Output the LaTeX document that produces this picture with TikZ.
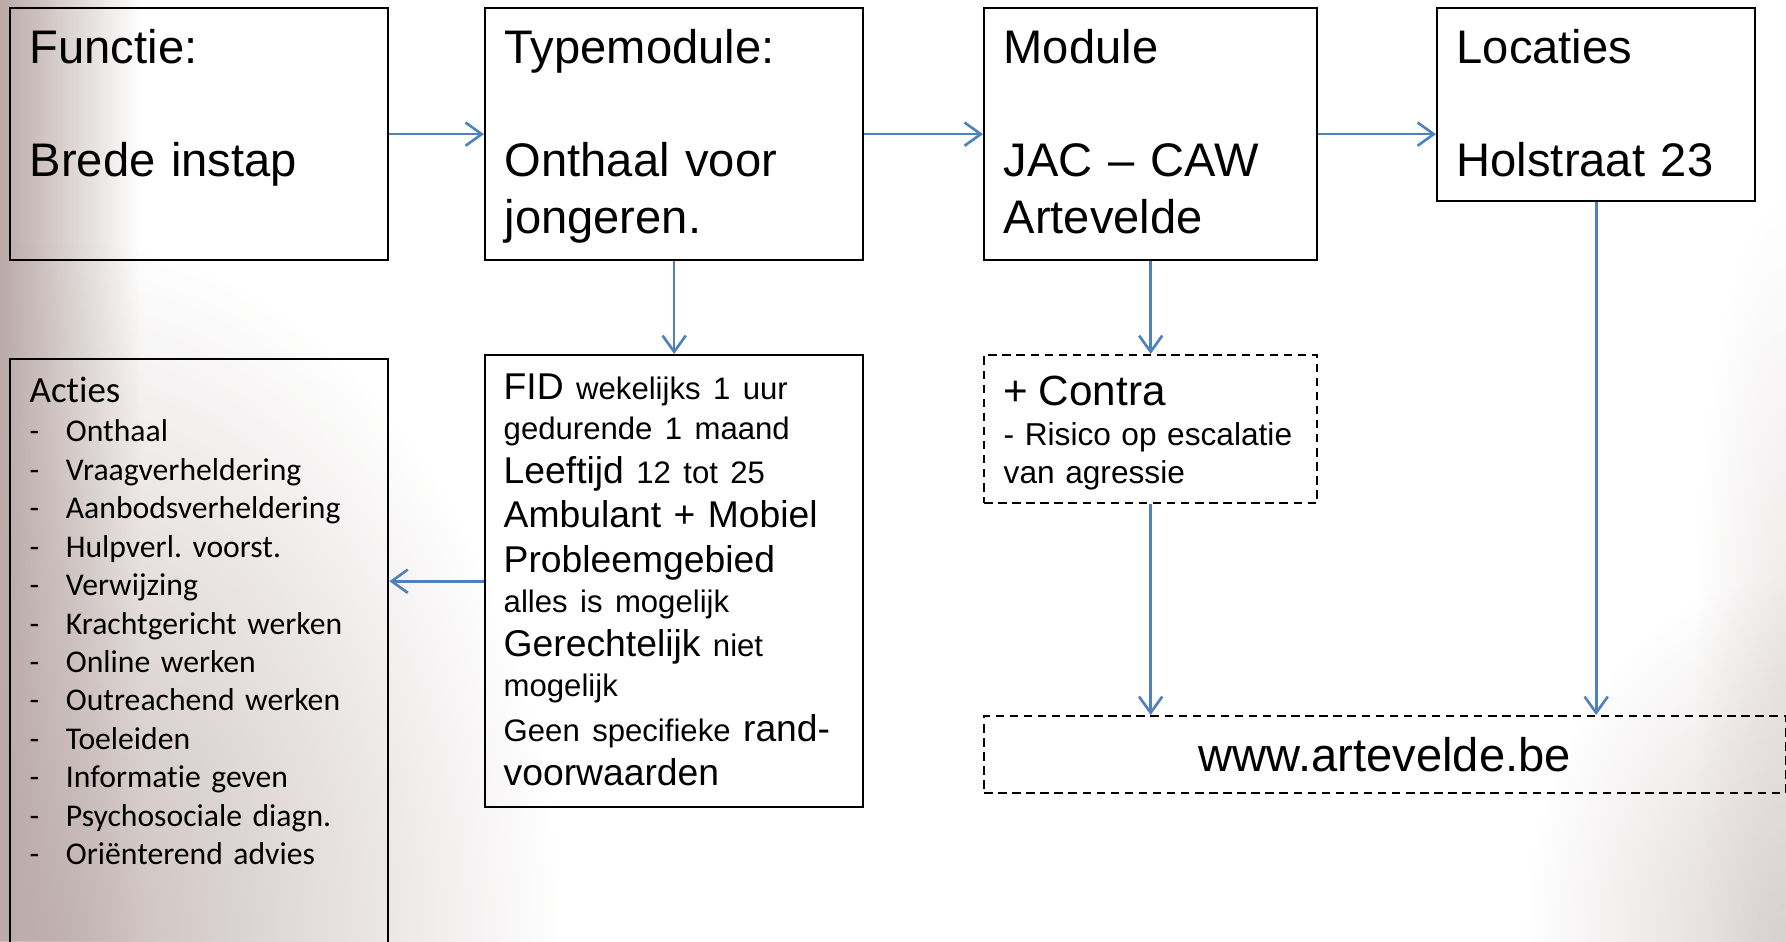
\documentclass[tikz,border=0pt]{standalone}
\usepackage{fontspec}
\setmainfont{Liberation Sans}
\newfontfamily\calibri[Ligatures=NoCommon]{Carlito}
\usetikzlibrary{arrows.meta,fadings,positioning}
\frenchspacing

\definecolor{pijlblauw}{RGB}{79,129,189}
\definecolor{achtergrond}{RGB}{186,170,168}

\tikzfading[name=naarrechts, left color=transparent!0, right color=transparent!100]
\tikzfading[name=gloed, inner color=transparent!0, outer color=transparent!100]

\newcommand{\klein}[1]{{\fontsize{8.85}{11.4}\selectfont #1}}
\newcommand{\punt}[1]{\makebox[10.3pt][l]{-}#1}

\tikzset{
  kader/.style={draw=black, line width=0.6pt, anchor=north west, inner sep=0pt},
  stippelkader/.style={kader, dash pattern=on 2.4pt off 1.6pt},
  tekst/.style={anchor=base west, inner sep=0pt, align=left},
  groot/.style={font=\fontsize{13.4}{16.2}\selectfont},
  pijl/.style={draw=pijlblauw, line width=0.75pt, -{Straight Barb[length=4.6pt,width=6.6pt]}},
}

\begin{document}
\begin{tikzpicture}[x=0.01cm,y=-0.01cm]
\useasboundingbox (0,0) rectangle (1786,941);
%\draw[step=100,gray,very thin] (0,0) grid (1786,941);
\begin{scope}
\clip (0,0) rectangle (1786,941);
\fill[white] (0,0) rectangle (1786,941);
\fill[achtergrond, path fading=naarrechts] (0,0) rectangle (140,941);
\fill[achtergrond, opacity=0.8, path fading=gloed] (60,941) ellipse (500 and 700);
\fill[achtergrond, opacity=0.5, path fading=gloed] (1786,941) ellipse (260 and 360);
\fill[achtergrond, opacity=0.25, path fading=gloed] (1786,650) ellipse (90 and 450);
\end{scope}

% bovenste rij
\node[kader, minimum width=3.78cm, minimum height=2.52cm] (functie) at (9,7) {};
\node[kader, minimum width=3.78cm, minimum height=2.52cm] (typemod) at (484,7) {};
\node[kader, minimum width=3.33cm, minimum height=2.52cm] (module) at (983,7) {};
\node[kader, minimum width=3.18cm, minimum height=1.93cm] (locaties) at (1436,7) {};

\node[tekst, groot, text width=3.5cm] (functieTxt) at ([shift={(20,56)}]functie.north west)
  {Functie:\\[16.2pt]Brede instap};
\node[tekst, groot, text width=3.5cm] (typemodTxt) at ([shift={(20,56)}]typemod.north west)
  {Typemodule:\\[16.2pt]Onthaal voor\\jongeren.};
\node[tekst, groot, text width=3.1cm] (moduleTxt) at ([shift={(20,56)}]module.north west)
  {Module\\[16.2pt]JAC -- CAW\\Artevelde};
\node[tekst, groot, text width=3.0cm] (locatiesTxt) at ([shift={(20,56)}]locaties.north west)
  {Locaties\\[16.2pt]Holstraat 23};

% onderste rij
\node[kader, minimum width=3.78cm, minimum height=6.0cm] (acties) at (9,358) {};
\node[kader, minimum width=3.78cm, minimum height=4.52cm] (fid) at (484,354) {};
\node[stippelkader, minimum width=3.33cm, minimum height=1.48cm] (contra) at (983,354) {};
\node[stippelkader, groot, anchor=north west, minimum width=8.01cm, minimum height=0.77cm] (www) at (983,715) {www.artevelde.be};

\node[tekst, text width=3.5cm, font=\calibri\fontsize{9}{10.93}\selectfont] (actiesTxt) at ([shift={(20,44)}]acties.north west)
  {{\fontsize{10.5}{10.93}\selectfont Acties}\\[0.4pt]
   \punt{Onthaal}\\
   \punt{Vraagverheldering}\\
   \punt{Aanbodsverheldering}\\
   \punt{Hulpverl. voorst.}\\
   \punt{Verwijzing}\\
   \punt{Krachtgericht werken}\\
   \punt{Online werken}\\
   \punt{Outreachend werken}\\
   \punt{Toeleiden}\\
   \punt{Informatie geven}\\
   \punt{Psychosociale diagn.}\\
   \punt{Oriënterend advies}};

\node[tekst, text width=3.5cm, font=\fontsize{10.6}{11.4}\selectfont] (fidTxt) at ([shift={(19,45)}]fid.north west)
  {FID \klein{wekelijks 1 uur}\\
   \klein{gedurende 1 maand}\\[1.1pt]
   Leeftijd \klein{12 tot 25}\\[1.3pt]
   Ambulant + Mobiel\\[1.3pt]
   Probleemgebied\\
   \klein{alles is mogelijk}\\[1.1pt]
   Gerechtelijk \klein{niet}\\
   \klein{mogelijk}\\[1.4pt]
   \klein{Geen specifieke} rand-\\[1.1pt]
   voorwaarden};

\node[tekst, text width=3.1cm, font=\fontsize{9}{10.9}\selectfont] (contraTxt) at ([shift={(20,51)}]contra.north west)
  {{\fontsize{12}{10.9}\selectfont + Contra}\\[0.5pt]
   - Risico op escalatie\\
   van agressie};

% verbindingen
\draw[pijl] (functie) -- (typemod);
\draw[pijl] (typemod) -- (module);
\draw[pijl] (module.east) -- (module.east -| locaties.west);
\draw[pijl] (typemod) -- (fid);
\draw[pijl] (module) -- (contra);
\draw[pijl] (fid.west) -- (fid.west -| acties.east);
\draw[pijl] (contra.south) -- (contra.south |- www.north);
\draw[pijl] (locaties.south) -- (locaties.south |- www.north);
\end{tikzpicture}
\end{document}
